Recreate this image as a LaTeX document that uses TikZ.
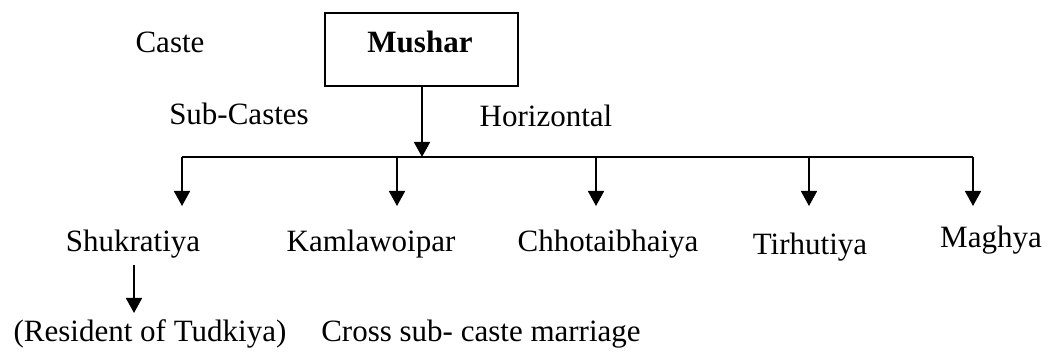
\documentclass[tikz,border=0pt]{standalone}
\usepackage{fontspec}
\setmainfont{Liberation Serif}
\usetikzlibrary{arrows.meta}
\begin{document}
\begin{tikzpicture}[x=1pt,y=-1pt,
  lbl/.style={anchor=base,inner sep=0pt,font=\fontsize{31}{36}\selectfont},
  boxnode/.style={draw,line width=1.7pt,minimum width=193pt,minimum height=73pt,inner sep=0pt},
  link/.style={line width=1.7pt},
  arr/.style={line width=1.7pt,-{Triangle[length=15pt,width=16pt]}}]
\useasboundingbox (0,0) rectangle (1052,352);
% top level
\node[boxnode] (mushar) at (421.5,49.5) {};
\node[lbl,font=\fontsize{31}{36}\selectfont\bfseries] (musharlbl) at (420,53) {Mushar};
\node[lbl] (caste) at (170,53) {Caste};
\node[lbl] (subcastes) at (239,125) {Sub-Castes};
\node[lbl] (horiz) at (546,127) {Horizontal};
% distribution line
\coordinate (hub) at (422,157);
\coordinate (bl) at (182,157);
\coordinate (br) at (973,157);
\draw[arr] (mushar.south -| hub) -- (hub);
\draw[link] (bl) -- (br);
% branches
\foreach \n/\x in {a/182,b/397,c/596,d/809,e/973}{
  \coordinate (top\n) at (\x,157);
  \coordinate (tip\n) at (\x,206);
  \draw[arr] (top\n) -- (tip\n);
}
% sub-caste names
\node[lbl] (shuk) at (133,252) {Shukratiya};
\node[lbl] (kaml) at (371,252) {Kamlawoipar};
\node[lbl] (chho) at (608,252) {Chhotaibhaiya};
\node[lbl] (tirh) at (810,255) {Tirhutiya};
\node[lbl] (magh) at (991,248) {Maghya};
% residence note
\node[lbl] (res) at (150,342) {(Resident of Tudkiya)};
\node[lbl] (cross) at (481,342) {Cross sub- caste marriage};
\coordinate (shukfoot) at (134,265);
\coordinate (restop) at (134,313);
\draw[arr] (shukfoot) -- (restop);
\end{tikzpicture}
\end{document}
